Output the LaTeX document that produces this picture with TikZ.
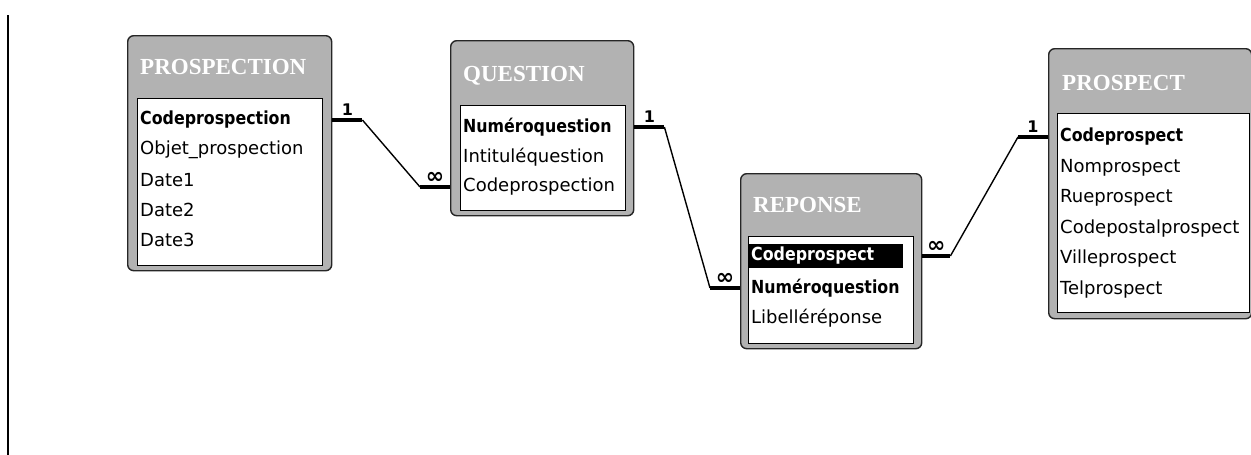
\documentclass[tikz,border=0pt]{standalone}
\usepackage{fontspec}
\setmainfont{DejaVu Sans}
\newfontfamily\titlefont{Liberation Serif}
\newfontfamily\keyfont[FakeStretch=0.88]{DejaVu Sans}
\newfontfamily\cardfont{DejaVu Sans}

\tikzstyle{table} = [draw=black!85, line width=1.4pt, fill=gray!60, rounded corners=6pt, anchor=north west, inner sep=0pt]
\tikzstyle{fields} = [draw=black, line width=0.8pt, fill=white, anchor=north west, inner sep=0pt]
\tikzstyle{title} = [anchor=west, inner sep=0pt, text=white, font=\titlefont\bfseries\fontsize{23}{24}\selectfont]
\tikzstyle{field} = [anchor=west, inner sep=0pt, font=\fontsize{18}{20}\selectfont]
\tikzstyle{key} = [field, font=\keyfont\bfseries\fontsize{18}{20}\selectfont]
\tikzstyle{stub} = [line width=4.5pt]
\tikzstyle{link} = [line width=1.4pt]
\tikzstyle{card} = [above, inner sep=2pt, font=\cardfont\bfseries\fontsize{16}{16}\selectfont]
\tikzstyle{many} = [card, inner sep=1pt, font=\cardfont\bfseries\fontsize{22}{22}\selectfont]

\begin{document}
\begin{tikzpicture}[x=1pt, y=-1pt]
	\useasboundingbox (0,0) rectangle (1251,455);
	\draw[line width=1.5pt] (8,15) -- (8,455);

	% PROSPECTION
	\node[table, minimum width=204, minimum height=235] (prospection) at (127,35) {};
	\node[fields, minimum width=185, minimum height=167] (prospection-box) at (137,98) {};
	\node[title] (prospection-title) at (140,67) {PROSPECTION};
	\node[key] (prospection-1) at (140,120) {Codeprospection};
	\node[field] (prospection-2) at (140,150) {Objet\_prospection};
	\node[field] (prospection-3) at (140,180) {Date1};
	\node[field] (prospection-4) at (140,210) {Date2};
	\node[field] (prospection-5) at (140,240) {Date3};

	% QUESTION
	\node[table, minimum width=183, minimum height=175] (question) at (450,40) {};
	\node[fields, minimum width=165, minimum height=105] (question-box) at (460,105) {};
	\node[title] (question-title) at (463,76) {QUESTION};
	\node[key] (question-1) at (463,127) {Numéroquestion};
	\node[field] (question-2) at (463,157) {Intituléquestion};
	\node[field] (question-3) at (463,187) {Codeprospection};

	% REPONSE
	\node[table, minimum width=181, minimum height=175] (reponse) at (740,173) {};
	\node[fields, minimum width=165, minimum height=107] (reponse-box) at (748,236) {};
	\node[title] (reponse-title) at (753,205) {REPONSE};
	\node[key, fill=black, text=white, text width=150, minimum height=24, inner xsep=2pt] (reponse-1) at (749,256) {Codeprospect};
	\node[key] (reponse-2) at (751,288) {Numéroquestion};
	\node[field] (reponse-3) at (751,318) {Libelléréponse};

	% PROSPECT
	\node[table, minimum width=203, minimum height=270] (prospect) at (1048,48) {};
	\node[fields, minimum width=192, minimum height=199] (prospect-box) at (1057,113) {};
	\node[title] (prospect-title) at (1062,83) {PROSPECT};
	\node[key] (prospect-1) at (1060,137) {Codeprospect};
	\node[field] (prospect-2) at (1060,168) {Nomprospect};
	\node[field] (prospect-3) at (1060,198) {Rueprospect};
	\node[field] (prospect-4) at (1060,229) {Codepostalprospect};
	\node[field] (prospect-5) at (1060,259) {Villeprospect};
	\node[field] (prospect-6) at (1060,290) {Telprospect};

	% relations
	\draw[stub] (prospection.east |- prospection-1) -- ++(30,0) coordinate (r1a) node[card, midway] {1};
	\draw[stub] (question.west |- question-3) -- ++(-30,0) coordinate (r1b) node[many, midway] {∞};
	\draw[link] (r1a) -- (r1b);

	\draw[stub] (question.east |- question-1) -- ++(30,0) coordinate (r2a) node[card, midway] {1};
	\draw[stub] (reponse.west |- reponse-2) -- ++(-30,0) coordinate (r2b) node[many, midway] {∞};
	\draw[link] (r2a) -- (r2b);

	\draw[stub] (reponse.east |- reponse-1) -- ++(28,0) coordinate (r3a) node[many, midway] {∞};
	\draw[stub] (prospect.west |- prospect-1) -- ++(-30,0) coordinate (r3b) node[card, midway] {1};
	\draw[link] (r3a) -- (r3b);
\end{tikzpicture}
\end{document}
